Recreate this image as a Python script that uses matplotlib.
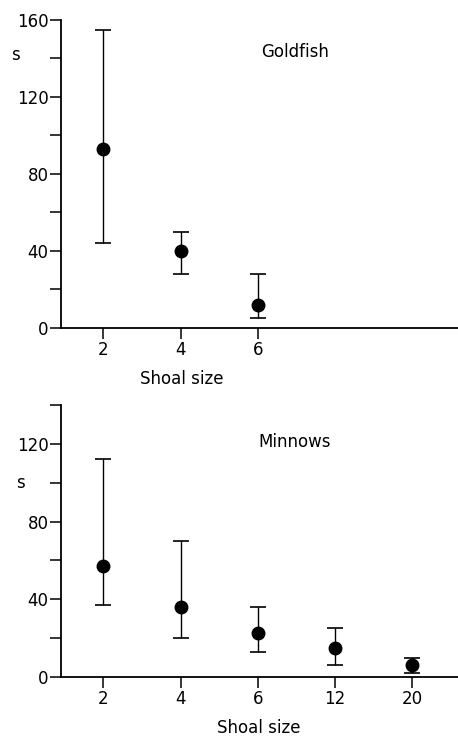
import matplotlib
matplotlib.use("Agg")
import matplotlib.pyplot as plt
from matplotlib.ticker import MultipleLocator

# goldfish data
gold_sizes = ["2", "4", "6"]
gold_mean = [93, 40, 12]
gold_low = [44, 28, 5]
gold_high = [155, 50, 28]

# minnow data
minnow_sizes = ["2", "4", "6", "12", "20"]
minnow_mean = [57, 36, 22.5, 15, 6]
minnow_low = [37, 20, 13, 6, 2]
minnow_high = [112, 70, 36, 25, 10]

plt.rcParams['font.family'] = 'DejaVu Sans'
plt.rcParams['font.size'] = 12

fig = plt.figure(figsize=(4.58, 7.38), dpi=100)
ax1 = fig.add_axes([0.1332, 0.5556, 0.8668, 0.4173])
ax2 = fig.add_axes([0.1332, 0.0827, 0.8668, 0.3686])


def draw_panel(ax, sizes, mean, low, high, ymax, name, name_y, s_pos, xl_pos):
    pos = list(range(1, len(sizes) + 1))
    err = [[m - l for m, l in zip(mean, low)], [h - m for m, h in zip(mean, high)]]
    ax.errorbar(pos, mean, yerr=err, fmt='o', color='black', ms=9,
                elinewidth=1, capsize=5.5, capthick=1.2)
    ax.set_xlim(0.45, 5.59)
    ax.set_ylim(0, ymax)
    ax.set_xticks(pos)
    ax.set_xticklabels(sizes)
    ax.yaxis.set_major_locator(MultipleLocator(40))
    ax.yaxis.set_minor_locator(MultipleLocator(20))
    for side in ['top', 'right']:
        ax.spines[side].set_visible(False)
    for side in ['left', 'bottom']:
        ax.spines[side].set_linewidth(1.3)
    ax.tick_params(axis='y', which='both', direction='out', length=8, width=1.1, pad=1)
    ax.tick_params(axis='x', direction='out', length=8, width=1.1, pad=1.5)
    ax.patch.set_alpha(0)
    ax.text(0.589, name_y, name, transform=ax.transAxes, ha='center', va='center')
    ax.text(s_pos[0], s_pos[1], 's', transform=ax.transAxes, ha='center', va='center')
    ax.text(xl_pos[0], xl_pos[1], 'Shoal size', transform=ax.transAxes, ha='center', va='center')


draw_panel(ax1, gold_sizes, gold_mean, gold_low, gold_high, 160, 'Goldfish', 0.896,
           (-0.116, 0.886), (0.304, -0.166))
draw_panel(ax2, minnow_sizes, minnow_mean, minnow_low, minnow_high, 140, 'Minnows', 0.864,
           (-0.103, 0.713), (0.499, -0.1875))

fig.savefig("out.png", dpi=100)
